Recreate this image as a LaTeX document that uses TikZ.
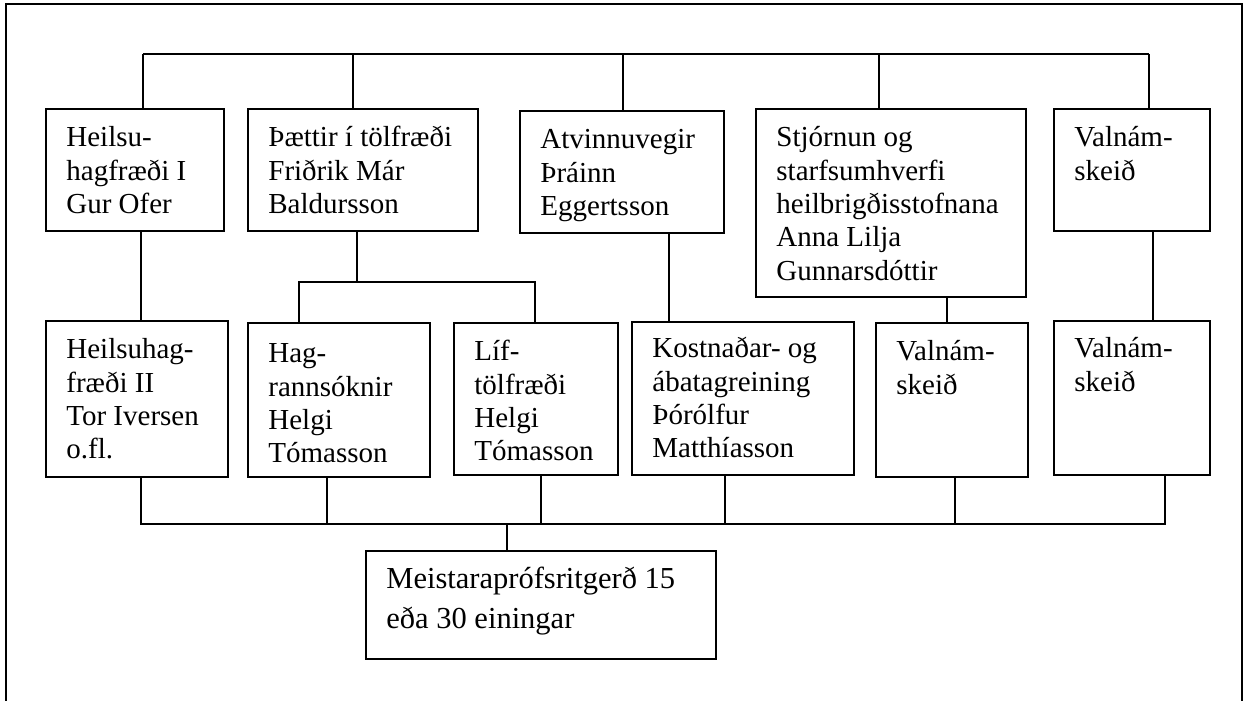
\documentclass[tikz,border=0pt]{standalone}
\usepackage{fontspec}
\setmainfont{Liberation Serif}
\newcommand{\boxtext}[4]{\begin{minipage}[t][#2pt][t]{#1pt}\leftskip=20.5pt\rule{0pt}{#3pt}#4\end{minipage}}
\begin{document}
\begin{tikzpicture}[x=1pt,y=-1pt,
  box/.style={draw, line width=1.8pt, inner sep=0pt, anchor=north west, font=\fontsize{29}{33.3}\selectfont},
  bigbox/.style={box, font=\fontsize{30.5}{39.6}\selectfont},
  wire/.style={line width=1.8pt}]
\useasboundingbox (0,0) rectangle (1247,701);
\draw[wire] (6,702) -- (6,4) -- (1242,4) -- (1242,702);
% top row
\node[box] (h1) at (45,108) {\boxtext{178}{122}{38}{Heilsu-\\hagfræði I\\Gur Ofer}};
\node[box] (h2) at (247,108) {\boxtext{230}{122}{38}{Þættir í tölfræði\\Friðrik Már\\Baldursson}};
\node[box] (h3) at (519,110) {\boxtext{204}{122}{38}{Atvinnuvegir\\Þráinn\\Eggertsson}};
\node[box] (h4) at (755,108) {\boxtext{270}{188}{38}{Stjórnun og\\starfsumhverfi\\heilbrigðisstofnana\\Anna Lilja\\Gunnarsdóttir}};
\node[box] (h5) at (1053,108) {\boxtext{156}{122}{38}{Valnám-\\skeið}};
% bottom row
\node[box] (b1) at (45,320) {\boxtext{182}{156}{38}{Heilsuhag-\\fræði II\\Tor Iversen\\o.fl.}};
\node[box] (b2) at (247,322) {\boxtext{182}{154}{40}{Hag-\\rannsóknir\\Helgi\\Tómasson}};
\node[box] (b3) at (453,322) {\boxtext{164}{152}{38}{Líf-\\tölfræði\\Helgi\\Tómasson}};
\node[box] (b4) at (631,321) {\boxtext{222}{153}{36}{Kostnaðar- og\\ábatagreining\\Þórólfur\\Matthíasson}};
\node[box] (b5) at (875,322) {\boxtext{152}{154}{38}{Valnám-\\skeið}};
\node[box] (b6) at (1053,320) {\boxtext{156}{154}{37}{Valnám-\\skeið}};
% thesis
\node[bigbox] (m) at (365,550) {\boxtext{350}{108}{38}{Meistaraprófsritgerð 15\\eða 30 einingar}};
% top bus
\coordinate (t1) at (143,54);
\coordinate (t2) at (353,54);
\coordinate (t3) at (623,54);
\coordinate (t4) at (879,54);
\coordinate (t5) at (1149,54);
\draw[wire] (t1) -- (t5);
\draw[wire] (t1) -- (t1 |- h1.north);
\draw[wire] (t2) -- (t2 |- h2.north);
\draw[wire] (t3) -- (t3 |- h3.north);
\draw[wire] (t4) -- (t4 |- h4.north);
\draw[wire] (t5) -- (t5 |- h5.north);
% middle connectors
\coordinate (c1) at (141,0);
\draw[wire] (c1 |- h1.south) -- (c1 |- b1.north);
\coordinate (s0) at (357,282);
\coordinate (sl) at (299,282);
\coordinate (sr) at (535,282);
\draw[wire] (s0 |- h2.south) -- (s0);
\draw[wire] (sl |- b2.north) -- (sl) -- (sr) -- (sr |- b3.north);
\coordinate (c3) at (669,0);
\draw[wire] (c3 |- h3.south) -- (c3 |- b4.north);
\coordinate (c4) at (947,0);
\draw[wire] (c4 |- h4.south) -- (c4 |- b5.north);
\coordinate (c5) at (1153,0);
\draw[wire] (c5 |- h5.south) -- (c5 |- b6.north);
% bottom bus
\coordinate (u1) at (141,524);
\coordinate (u2) at (327,524);
\coordinate (u3) at (541,524);
\coordinate (u4) at (725,524);
\coordinate (u5) at (955,524);
\coordinate (u6) at (1165,524);
\coordinate (um) at (507,524);
\draw[wire] (u1 |- b1.south) -- (u1) -- (u6) -- (u6 |- b6.south);
\draw[wire] (u2 |- b2.south) -- (u2);
\draw[wire] (u3 |- b3.south) -- (u3);
\draw[wire] (u4 |- b4.south) -- (u4);
\draw[wire] (u5 |- b5.south) -- (u5);
\draw[wire] (um) -- (um |- m.north);
\end{tikzpicture}
\end{document}
